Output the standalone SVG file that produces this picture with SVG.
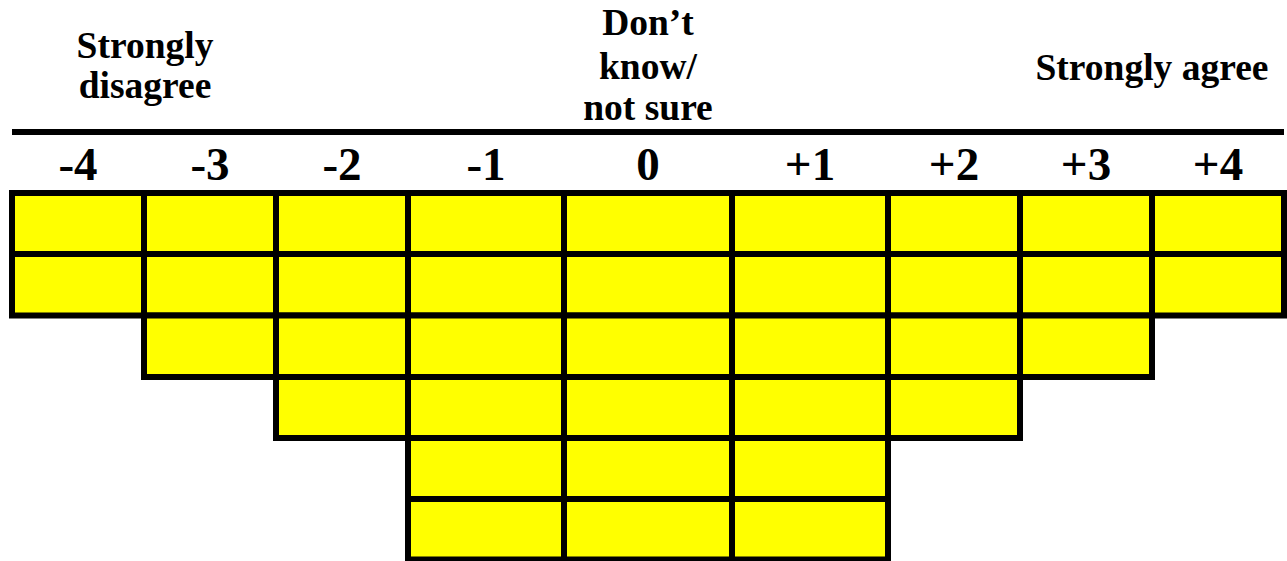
<svg xmlns="http://www.w3.org/2000/svg" width="1287" height="561" viewBox="0 0 1287 561">
<style>
.lbl{font-family:"Liberation Serif","Times New Roman",serif;font-weight:bold;font-size:37.5px;fill:#000;text-anchor:middle}
.num{font-family:"Liberation Serif","Times New Roman",serif;font-weight:bold;font-size:47px;fill:#000;text-anchor:middle}
.cell{fill:#ffff00;stroke:#000;stroke-width:6}
</style>
<rect width="1287" height="561" fill="#fff"/>
<g id="labels">
<text class="lbl" x="145" y="58">Strongly</text>
<text class="lbl" x="145" y="98">disagree</text>
<text class="lbl" x="648" y="35">Don’t</text>
<text class="lbl" x="648" y="79">know/</text>
<text class="lbl" x="648" y="120">not sure</text>
<text class="lbl" x="1152" y="80">Strongly agree</text>
</g>
<line x1="12" y1="132" x2="1284" y2="132" stroke="#000" stroke-width="6"/>
<g id="numbers">
<text class="num" x="78" y="180">-4</text>
<text class="num" x="210" y="180">-3</text>
<text class="num" x="342" y="180">-2</text>
<text class="num" x="486" y="180">-1</text>
<text class="num" x="648" y="180">0</text>
<text class="num" x="810" y="180">+1</text>
<text class="num" x="954" y="180">+2</text>
<text class="num" x="1086" y="180">+3</text>
<text class="num" x="1218" y="180">+4</text>
</g>
<g id="col-m4">
<rect class="cell" x="12" y="193" width="132" height="61"/>
<rect class="cell" x="12" y="254" width="132" height="61.5"/>
</g>
<g id="col-m3">
<rect class="cell" x="144" y="193" width="132" height="61"/>
<rect class="cell" x="144" y="254" width="132" height="61.5"/>
<rect class="cell" x="144" y="315.5" width="132" height="61.5"/>
</g>
<g id="col-m2">
<rect class="cell" x="276" y="193" width="132" height="61"/>
<rect class="cell" x="276" y="254" width="132" height="61.5"/>
<rect class="cell" x="276" y="315.5" width="132" height="61.5"/>
<rect class="cell" x="276" y="377" width="132" height="61"/>
</g>
<g id="col-m1">
<rect class="cell" x="408" y="193" width="156" height="61"/>
<rect class="cell" x="408" y="254" width="156" height="61.5"/>
<rect class="cell" x="408" y="315.5" width="156" height="61.5"/>
<rect class="cell" x="408" y="377" width="156" height="61"/>
<rect class="cell" x="408" y="438" width="156" height="61"/>
<rect class="cell" x="408" y="499" width="156" height="60.5"/>
</g>
<g id="col-0">
<rect class="cell" x="564" y="193" width="168" height="61"/>
<rect class="cell" x="564" y="254" width="168" height="61.5"/>
<rect class="cell" x="564" y="315.5" width="168" height="61.5"/>
<rect class="cell" x="564" y="377" width="168" height="61"/>
<rect class="cell" x="564" y="438" width="168" height="61"/>
<rect class="cell" x="564" y="499" width="168" height="60.5"/>
</g>
<g id="col-p1">
<rect class="cell" x="732" y="193" width="156" height="61"/>
<rect class="cell" x="732" y="254" width="156" height="61.5"/>
<rect class="cell" x="732" y="315.5" width="156" height="61.5"/>
<rect class="cell" x="732" y="377" width="156" height="61"/>
<rect class="cell" x="732" y="438" width="156" height="61"/>
<rect class="cell" x="732" y="499" width="156" height="60.5"/>
</g>
<g id="col-p2">
<rect class="cell" x="888" y="193" width="132" height="61"/>
<rect class="cell" x="888" y="254" width="132" height="61.5"/>
<rect class="cell" x="888" y="315.5" width="132" height="61.5"/>
<rect class="cell" x="888" y="377" width="132" height="61"/>
</g>
<g id="col-p3">
<rect class="cell" x="1020" y="193" width="132" height="61"/>
<rect class="cell" x="1020" y="254" width="132" height="61.5"/>
<rect class="cell" x="1020" y="315.5" width="132" height="61.5"/>
</g>
<g id="col-p4">
<rect class="cell" x="1152" y="193" width="132" height="61"/>
<rect class="cell" x="1152" y="254" width="132" height="61.5"/>
</g>
<g id="connectors"></g>
</svg>
